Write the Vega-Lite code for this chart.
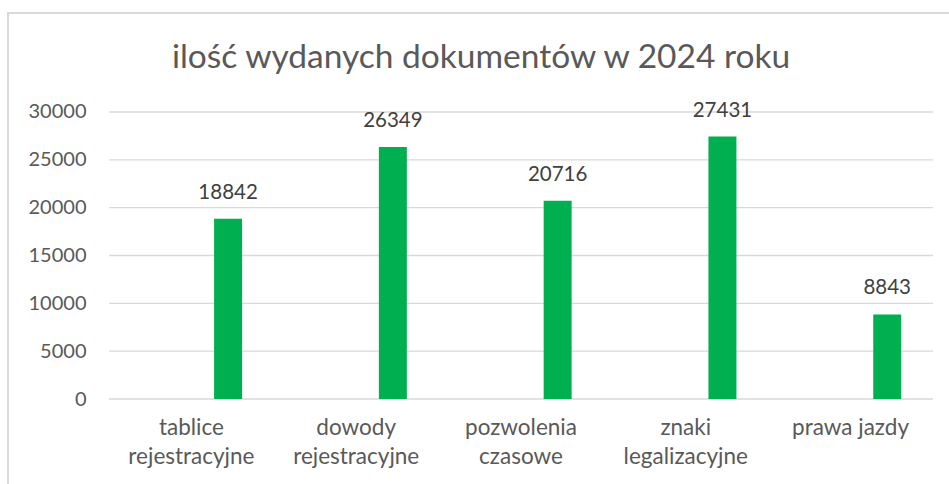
{
  "$schema": "https://vega.github.io/schema/vega-lite/v6.json",
  "width": 951,
  "height": 481,
  "autosize": "none",
  "padding": {"left": 8, "top": 13, "right": 0, "bottom": 0},
  "background": "white",
  "title": {
    "text": "ilość wydanych dokumentów w 2024 roku",
    "font": "Lato",
    "fontSize": 33.5,
    "fontWeight": "normal",
    "color": "#595959",
    "anchor": "middle",
    "dx": -2.5,
    "dy": 34,
    "baseline": "alphabetic",
    "offset": -54
  },
  "layer": [
    {
      "data": {"values": [{"v": 0}, {"v": 5000}, {"v": 10000}, {"v": 15000}, {"v": 20000}, {"v": 25000}, {"v": 30000}]},
      "mark": {"type": "rule", "color": "#d9d9d9", "strokeWidth": 1.3},
      "encoding": {
        "x": {"datum": 0, "type": "quantitative", "scale": {"domain": [-0.6129, 5.1578], "nice": false, "zero": false}, "axis": null},
        "x2": {"datum": 5},
        "y": {"field": "v", "type": "quantitative", "scale": {"domain": [-9930, 40348], "nice": false, "zero": false},
          "axis": {
            "title": null,
            "values": [0, 5000, 10000, 15000, 20000, 25000, 30000],
            "format": "d",
            "offset": -101,
            "labelFont": "Lato",
            "labelFontSize": 20,
            "labelColor": "#595959",
            "labelPadding": 23,
            "ticks": false,
            "domain": false,
            "grid": false
          }
        }
      }
    },
    {
      "data": {
        "values": [
          {"kategoria": "tablice rejestracyjne", "seria": "2024", "liczba": 18842},
          {"kategoria": "dowody rejestracyjne", "seria": "2024", "liczba": 26349},
          {"kategoria": "pozwolenia czasowe", "seria": "2024", "liczba": 20716},
          {"kategoria": "znaki legalizacyjne", "seria": "2024", "liczba": 27431},
          {"kategoria": "prawa jazdy", "seria": "2024", "liczba": 8843}
        ]
      },
      "encoding": {
        "x": {
          "field": "kategoria",
          "type": "nominal",
          "sort": null,
          "scale": {"paddingInner": 0, "paddingOuter": 0.3855, "align": 0.795},
          "axis": {
            "title": null,
            "offset": -95,
            "labelAngle": 0,
            "labelFont": "Lato",
            "labelFontSize": 22.5,
            "labelColor": "#595959",
            "labelPadding": 17,
            "labelBaseline": "top",
            "labelLineHeight": 29,
            "labelExpr": "datum.value == 'prawa jazdy' ? datum.value : split(datum.value, ' ')",
            "ticks": false,
            "domain": false,
            "grid": false
          }
        },
        "xOffset": {
          "field": "seria",
          "type": "nominal",
          "scale": {"paddingInner": 0.591, "paddingOuter": 1, "align": 0.768}
        },
        "y": {"field": "liczba", "type": "quantitative"}
      },
      "layer": [
        {
          "mark": {"type": "bar", "color": "#00B050"},
          "encoding": {"y2": {"datum": 0}}
        },
        {
          "mark": {
            "type": "text",
            "font": "Lato",
            "fontSize": 20.5,
            "color": "#404040",
            "baseline": "alphabetic",
            "dy": -20
          },
          "encoding": {"text": {"field": "liczba", "type": "quantitative", "format": "d"}}
        }
      ]
    }
  ],
  "resolve": {"scale": {"x": "independent"}, "axis": {"x": "independent"}},
  "config": {"view": {"stroke": "#d9d9d9", "strokeWidth": 2}}
}
